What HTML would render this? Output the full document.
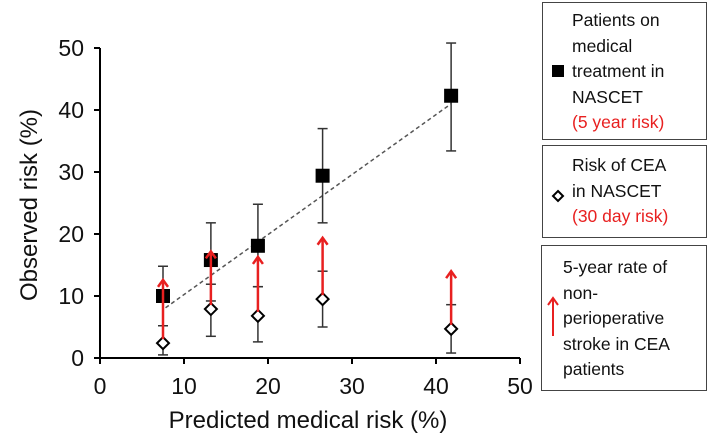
<!DOCTYPE html>
<html><head><meta charset="utf-8"><style>
body{margin:0;background:#fff;font-family:"Liberation Sans",sans-serif}
.lg{position:absolute;border:1.5px solid #444;box-sizing:border-box;background:#fff}
.lg .t{position:absolute;font-size:17.5px;line-height:25.5px;color:#111}
.red{color:#e82020}
</style></head><body>
<div style="position:relative;width:708px;height:438px;overflow:hidden">
<svg id="svg" width="540" height="438" style="position:absolute;left:0;top:0"></svg>
<div class="lg" style="left:542px;top:2px;width:165px;height:138px">
 <div style="position:absolute;left:9px;top:62px;width:12px;height:12px;background:#000"></div>
 <div class="t" style="left:29px;top:5px">Patients on<br>medical<br>treatment in<br>NASCET<br><span class="red">(5 year risk)</span></div>
</div>
<div class="lg" style="left:542px;top:145px;width:165px;height:93px">
 <svg style="position:absolute;left:8px;top:43px" width="14" height="14"><polygon points="7,2 12,7 7,12 2,7" fill="#fff" stroke="#000" stroke-width="2"/></svg>
 <div class="t" style="left:29px;top:7px">Risk of CEA<br>in NASCET<br><span class="red">(30 day risk)</span></div>
</div>
<div class="lg" style="left:541px;top:245px;width:166px;height:146px">
 <svg style="position:absolute;left:4px;top:50px" width="14" height="42"><line x1="7" y1="40" x2="7" y2="3" stroke="#e82020" stroke-width="2"/><polyline points="2,9 7,2 12,9" fill="none" stroke="#e82020" stroke-width="2"/></svg>
 <div class="t" style="left:21px;top:9px">5-year rate of<br>non-<br>perioperative<br>stroke in CEA<br>patients</div>
</div>
</div>
<script>
const xs=[7.5,13.2,18.8,26.5,41.8];
const sqY=[10.0,15.8,18.1,29.4,42.3];
const sqLo=[5.2,9.2,11.5,21.8,33.4];
const sqHi=[14.8,21.8,24.8,37.0,50.8];
const dmY=[2.4,7.9,6.8,9.5,4.7];
const dmLo=[0.5,3.5,2.6,5.0,0.8];
const dmHi=[5.2,11.9,11.5,14.0,8.6];
const arrTop=[12.6,17.2,16.3,19.4,14.0];
const trendX=[7.8,41.8];
const trendY=[8.1,41.0];
const xTicks=[0,10,20,30,40,50];
const yTicks=[0,10,20,30,40,50];
const svg=document.getElementById('svg');
const NS='http://www.w3.org/2000/svg';
const X=v=>100+v*8.4, Y=v=>358-v*6.2;
function mk(tag,a,p){const e=document.createElementNS(NS,tag);for(const k in a)e.setAttribute(k,a[k]);(p||svg).appendChild(e);return e;}
let e;
e=mk('line',{x1:X(0),y1:Y(0),x2:X(50),y2:Y(0),stroke:'#000','stroke-width':2});


e=mk('line',{x1:X(0),y1:Y(0),x2:X(0),y2:Y(50),stroke:'#000','stroke-width':2});


xTicks.forEach(t=>{
 mk('line',{x1:X(t),y1:Y(0),x2:X(t),y2:Y(0)+6,stroke:'#000','stroke-width':2});
 e=mk('text',{x:X(t),y:394,'font-size':23,'text-anchor':'middle',fill:'#111'});e.textContent=t;
 
 
});
yTicks.forEach(t=>{
 mk('line',{x1:X(0)-6,y1:Y(t),x2:X(0),y2:Y(t),stroke:'#000','stroke-width':2});
 e=mk('text',{x:84,y:Y(t)+8,'font-size':23,'text-anchor':'end',fill:'#111'});e.textContent=t;
 
 
});
e=mk('text',{x:308,y:428,'font-size':24,'text-anchor':'middle',fill:'#111'});e.textContent='Predicted medical risk (%)';


e=mk('text',{x:0,y:0,'font-size':24,'text-anchor':'middle',fill:'#111',transform:'translate(37,205) rotate(-90)'});e.textContent='Observed risk (%)';


e=mk('line',{x1:X(trendX[0]),y1:Y(trendY[0]),x2:X(trendX[1]),y2:Y(trendY[1]),stroke:'#555','stroke-width':1.5,'stroke-dasharray':'4,3'});


function ebar(x,lo,hi,name){const g=mk('g',{stroke:'#333','stroke-width':1.5});
 
 
 mk('line',{x1:X(x),y1:Y(lo),x2:X(x),y2:Y(hi)},g);
 mk('line',{x1:X(x)-5,y1:Y(lo),x2:X(x)+5,y2:Y(lo)},g);
 mk('line',{x1:X(x)-5,y1:Y(hi),x2:X(x)+5,y2:Y(hi)},g);}
xs.forEach((x,i)=>{ebar(x,sqLo[i],sqHi[i],'square-error-bar');ebar(x,dmLo[i],dmHi[i],'diamond-error-bar');});
xs.forEach((x,i)=>{
 e=mk('rect',{x:X(x)-7,y:Y(sqY[i])-7,width:14,height:14,fill:'#000'});
 
 
});
xs.forEach((x,i)=>{
 const cx=X(x),cy=Y(dmY[i]);
 e=mk('polygon',{points:`${cx},${cy-6} ${cx+6},${cy} ${cx},${cy+6} ${cx-6},${cy}`,fill:'#fff',stroke:'#000','stroke-width':2});
 
 
});
xs.forEach((x,i)=>{
 const g=mk('g',{stroke:'#e82020','stroke-width':2.5,fill:'none'});
 
 
 const cx=X(x),ty=Y(arrTop[i]);
 mk('line',{x1:cx,y1:Y(dmY[i])-4,x2:cx,y2:ty+1},g);
 mk('polyline',{points:`${cx-5},${ty+7} ${cx},${ty} ${cx+5},${ty+7}`},g);
});
</script>
</body></html>
